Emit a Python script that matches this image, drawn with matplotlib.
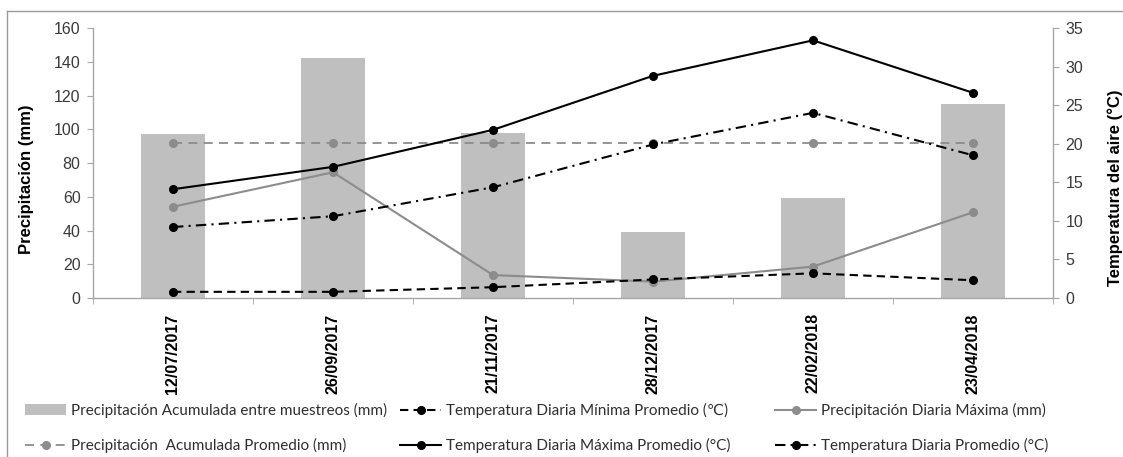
import numpy as np
import matplotlib
matplotlib.use("Agg")
import matplotlib.pyplot as plt
from matplotlib.lines import Line2D

fechas = ["12/07/2017", "26/09/2017", "21/11/2017", "28/12/2017", "22/02/2018", "23/04/2018"]

# precipitacion (mm)
prec_acumulada = [97, 142, 98, 39, 59, 115]
prec_acum_promedio = [91.7, 91.7, 91.7, 91.7, 91.7, 91.7]
prec_diaria_max = [54.1, 74.5, 13.6, 9.7, 18.6, 50.8]

# temperatura (°C)
temp_min = [0.8, 0.8, 1.4, 2.4, 3.2, 2.3]
temp_max = [14.1, 17.0, 21.8, 28.8, 33.4, 26.6]
temp_prom = [9.2, 10.6, 14.35, 19.9, 24.0, 18.5]

plt.rcParams['font.family'] = ['Liberation Sans', 'DejaVu Sans']

W, H = 1123, 457
fig = plt.figure(figsize=(W / 100, H / 100), dpi=100)
ax = fig.add_axes([93 / W, 1 - 298 / H, 960 / W, 270 / H])
ax2 = ax.twinx()

x = np.arange(len(fechas))
gris_barra = '#bfbfbf'
gris = '#8c8c8c'
eje = '#a6a6a6'
txt = '#3a3a3a'

barras = ax.bar(x, prec_acumulada, width=0.4, color=gris_barra, zorder=1,
                label='Precipitación Acumulada entre muestreos (mm)')
l_pprom, = ax.plot(x, prec_acum_promedio, color=gris, lw=1.3, ls=(0, (5, 3.5)),
                   marker='o', ms=5.5, mec=gris, mfc=gris, zorder=3,
                   label='Precipitación  Acumulada Promedio (mm)')
l_pmax, = ax.plot(x, prec_diaria_max, color=gris, lw=1.5, marker='o', ms=5.5,
                  mec=gris, mfc=gris, zorder=3,
                  label='Precipitación Diaria Máxima (mm)')

l_tmin, = ax2.plot(x, temp_min, color='black', lw=1.5, ls=(0, (4, 2.5)),
                   marker='o', ms=5.5, label='Temperatura Diaria Mínima Promedio (℃)')
l_tmax, = ax2.plot(x, temp_max, color='black', lw=1.5, marker='o', ms=5.5,
                   label='Temperatura Diaria Máxima Promedio (°C)')
l_tprom, = ax2.plot(x, temp_prom, color='black', lw=1.5, ls=(0, (5, 2.5, 1, 2.5)),
                    marker='o', ms=5.5, label='Temperatura Diaria Promedio (°C)')

ax.set_xlim(-0.5, len(fechas) - 0.5)
ax.set_ylim(0, 160)
ax.set_yticks(np.arange(0, 161, 20))
ax2.set_ylim(0, 35)
ax2.set_yticks(np.arange(0, 36, 5))

ax.set_xticks(x)
ax.set_xticklabels(fechas, rotation=90, fontsize=11.5, fontweight='bold', color='black')
ax.set_xticks(np.arange(-0.5, len(fechas), 1), minor=True)
ax.tick_params(axis='x', which='major', length=0, pad=11)
ax.tick_params(axis='x', which='minor', length=4, color=eje)
ax.tick_params(axis='y', length=4, color=eje, labelsize=11.5, labelcolor=txt, pad=5)
ax2.tick_params(axis='y', length=4, color=eje, labelsize=11.5, labelcolor=txt, pad=5)

for a in (ax, ax2):
    a.spines['top'].set_visible(False)
    for s in ('left', 'right', 'bottom'):
        a.spines[s].set_color(eje)
        a.spines[s].set_linewidth(1)
ax.spines['right'].set_visible(False)
ax2.spines['left'].set_visible(False)
ax2.spines['bottom'].set_visible(False)

ax.set_ylabel('Precipitación (mm)', fontsize=12, fontweight='bold')
ax.yaxis.set_label_coords(-0.0615, 0.44)
ax2.set_ylabel('Temperatura del aire (°C)', fontsize=12, fontweight='bold')
ax2.yaxis.set_label_coords(1.057, 0.41)

# leyenda en tres columnas
leg_kw = dict(loc='upper left', frameon=False, handlelength=2.7,
              handletextpad=0.3, labelspacing=1.3, borderpad=0, borderaxespad=0,
              prop={'family': ['Lato', 'DejaVu Sans'], 'size': 11})
columnas = [([barras, l_pprom], 25), ([l_tmin, l_tmax], 400), ([l_pmax, l_tprom], 775)]
for handles, x0 in columnas:
    leg = fig.legend(handles=handles, labels=[h.get_label() for h in handles],
                     bbox_to_anchor=(x0 / W, 1 - 403 / H), **leg_kw)
    for t in leg.get_texts():
        t.set_color('#2e2e2e')

# marco exterior
fig.add_artist(Line2D([7 / W, 1], [1 - 11 / H, 1 - 11 / H], color='#9a9a9a', lw=1))
fig.add_artist(Line2D([7 / W, 7 / W], [0, 1 - 11 / H], color='#9a9a9a', lw=1))

fig.savefig('out.png', dpi=100)
